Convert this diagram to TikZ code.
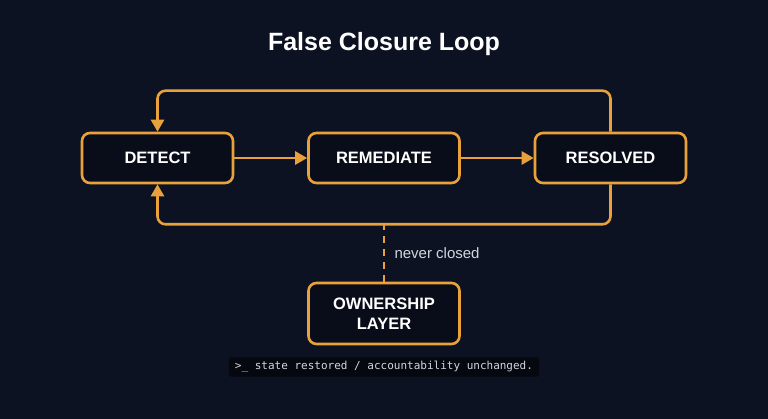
\documentclass[tikz,border=0pt]{standalone}
\usepackage{fontspec}
\setmainfont{Liberation Sans}
\setmonofont{DejaVu Sans Mono}
\usetikzlibrary{arrows.meta}

\definecolor{bgnavy}{HTML}{0C1221}
\definecolor{boxfill}{HTML}{090D19}
\definecolor{loopor}{HTML}{E9A23B}
\definecolor{softgray}{HTML}{D2D6DE}
\definecolor{termbg}{HTML}{05080F}

\tikzset{
  stagebox/.style={draw=loopor, line width=2.6pt, fill=boxfill, rounded corners=8pt,
    minimum width=151pt, minimum height=50pt, inner sep=0pt, text=white,
    font=\fontsize{16.5}{18}\selectfont\bfseries, align=center},
  flow/.style={draw=loopor, line width=2.6pt, -{Triangle[length=12pt,width=13pt]}},
  backloop/.style={flow, rounded corners=8pt},
  openlink/.style={draw=loopor, line width=2.6pt, dash pattern=on 7pt off 6pt}
}

\begin{document}
\begin{tikzpicture}[x=1pt, y=-1pt]
\fill[bgnavy] (0,0) rectangle (768,419);
\useasboundingbox (0,0) rectangle (768,419);

\node[text=white, font=\fontsize{25}{28}\selectfont\bfseries] (title) at (384,44) {False Closure Loop};

\node[stagebox] (detect) at (157.5,158) {DETECT};
\node[stagebox] (remediate) at (384,158) {REMEDIATE};
\node[stagebox] (resolved) at (610.5,158) {RESOLVED};
\node[stagebox, minimum height=61pt, font=\fontsize{16.5}{20}\selectfont\bfseries] (owner) at (384,313.5) {OWNERSHIP\\LAYER};

\draw[flow] (detect) -- (remediate);
\draw[flow] (remediate) -- (resolved);
\draw[backloop] (resolved.north) -- ++(0,-41) -| (detect.north);
\draw[backloop] (resolved.south) -- ++(0,40) -| (detect.south);

\coordinate (breakpt) at (owner.north |- 0,223);
\draw[openlink] (owner.north) -- (breakpt);
\node[anchor=west, text=softgray, font=\fontsize{15}{17}\selectfont] (nevertxt) at (391,253) {never closed};

\node[fill=termbg, rounded corners=2pt, text=softgray, inner xsep=6pt, inner ysep=4pt,
  font=\fontsize{11}{13}\ttfamily] (term) at (384,367) {>\_ state restored / accountability unchanged.};
\end{tikzpicture}
\end{document}
